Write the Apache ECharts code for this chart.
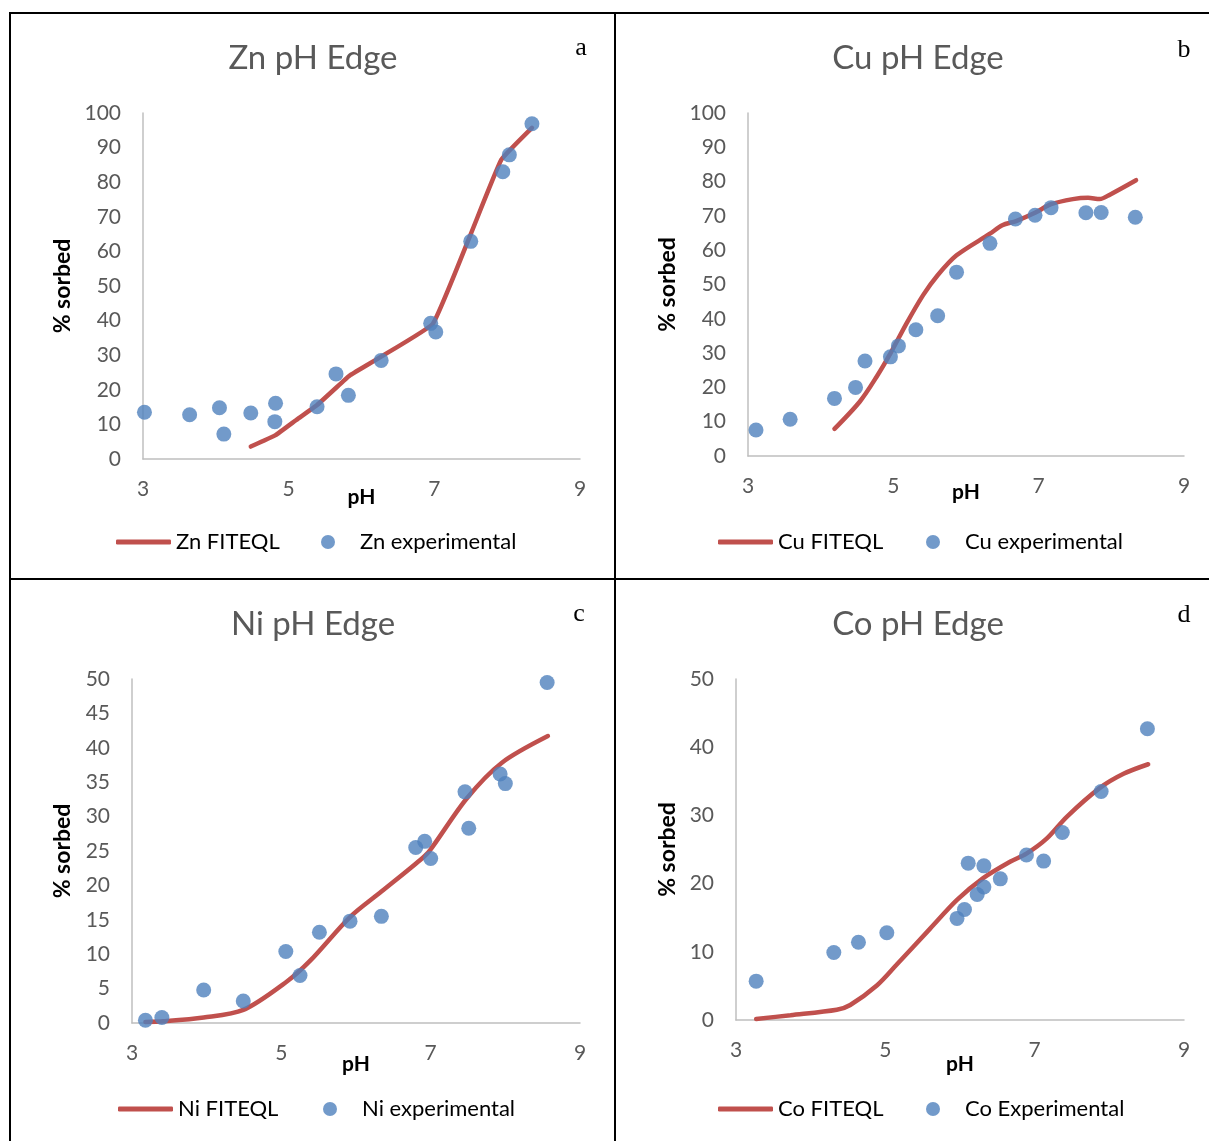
<!DOCTYPE html>
<html>
<head>
<meta charset="utf-8">
<script src="https://cdn.jsdelivr.net/npm/echarts@6/dist/echarts.min.js"></script>
<style>
  html, body { margin: 0; padding: 0; background: #fff; }
  #chart { width: 1209px; height: 1141px; }
</style>
</head>
<body>
<div id="chart"></div>
<script>
// values (pH, % sorbed)
var znExpPH     = [3.02, 3.64, 4.05, 4.11, 4.48, 4.82, 4.81, 5.39, 5.65, 5.82, 6.27, 6.95, 7.02, 7.50, 7.94, 8.03, 8.34];
var znExpSorbed = [13.5, 12.8, 14.8, 7.2, 13.3, 16.1, 10.8, 15.1, 24.6, 18.4, 28.5, 39.2, 36.7, 62.9, 83.0, 87.9, 96.9];
var znFitPH     = [4.48, 4.82, 5.10, 5.39, 5.75, 5.85, 6.27, 6.98, 7.50, 7.92, 8.34];
var znFitSorbed = [3.6, 6.9, 11.2, 15.6, 22.5, 24.3, 29.6, 39.1, 65.0, 86.5, 95.7];

var cuExpPH     = [3.11, 3.58, 4.19, 4.48, 4.61, 4.96, 5.07, 5.31, 5.61, 5.87, 6.33, 6.68, 6.95, 7.17, 7.65, 7.86, 8.33];
var cuExpSorbed = [7.6, 10.7, 16.8, 20.0, 27.7, 28.9, 32.1, 36.8, 40.9, 53.6, 62.0, 69.1, 70.2, 72.4, 70.9, 71.0, 69.6];
var cuFitPH     = [4.19, 4.54, 4.77, 4.96, 5.18, 5.41, 5.61, 5.87, 6.33, 6.50, 6.69, 6.95, 7.17, 7.47, 7.68, 7.84, 7.98, 8.34];
var cuFitSorbed = [7.9, 15.9, 23.1, 29.9, 38.6, 46.9, 52.7, 58.5, 64.8, 67.3, 68.5, 70.9, 73.4, 74.9, 75.3, 74.9, 76.2, 80.4];

var niExpPH     = [3.18, 3.40, 3.96, 4.49, 5.06, 5.25, 5.51, 5.92, 6.34, 6.80, 6.92, 7.00, 7.46, 7.51, 7.93, 8.00, 8.56];
var niExpSorbed = [0.4, 0.8, 4.8, 3.2, 10.4, 6.9, 13.2, 14.8, 15.5, 25.5, 26.4, 23.9, 33.6, 28.3, 36.2, 34.8, 49.5];
var niFitPH     = [3.18, 3.42, 3.96, 4.49, 5.07, 5.39, 5.92, 6.34, 6.86, 6.99, 7.48, 7.95, 8.57];
var niFitSorbed = [0.15, 0.25, 0.8, 1.9, 6.0, 9.1, 15.4, 19.1, 23.7, 25.1, 32.6, 37.8, 41.7];

var coExpPH     = [3.27, 4.31, 4.64, 5.02, 5.96, 6.06, 6.11, 6.23, 6.32, 6.32, 6.54, 6.89, 7.12, 7.37, 7.89, 8.51];
var coExpSorbed = [5.7, 9.9, 11.4, 12.8, 14.9, 16.2, 23.0, 18.4, 19.5, 22.6, 20.7, 24.2, 23.3, 27.5, 33.5, 42.7];
var coFitPH     = [3.27, 3.73, 4.35, 4.53, 4.89, 5.15, 5.60, 5.96, 6.31, 6.67, 6.89, 7.16, 7.43, 7.87, 8.19, 8.52];
var coFitSorbed = [0.15, 0.7, 1.5, 2.2, 5.1, 8.1, 13.4, 17.6, 20.8, 23.2, 24.4, 26.6, 29.8, 34.0, 36.1, 37.5];

var panelTitles = ['Zn pH Edge', 'Cu pH Edge', 'Ni pH Edge', 'Co pH Edge'];
var panelLetters = ['a', 'b', 'c', 'd'];
var fitNames = ['Zn FITEQL', 'Cu FITEQL', 'Ni FITEQL', 'Co FITEQL'];
var expNames = ['Zn experimental', 'Cu experimental', 'Ni experimental', 'Co Experimental'];
var yMax = [100, 100, 50, 50];
var yStep = [10, 10, 5, 10];

var expX = [znExpPH, cuExpPH, niExpPH, coExpPH];
var expY = [znExpSorbed, cuExpSorbed, niExpSorbed, coExpSorbed];
var fitX = [znFitPH, cuFitPH, niFitPH, coFitPH];
var fitY = [znFitSorbed, cuFitSorbed, niFitSorbed, coFitSorbed];

function zip(xs, ys) {
    return xs.map(function (x, i) { return [x, ys[i]]; });
}

var FONT = 'Lato, "Open Sans", sans-serif';
var GRAY = '#595959';
var RED = '#C0504D';
var BLUE = '#4F81BD';

// layout of each panel on the page
var grids = [
    { left: 143, top: 113, width: 437, height: 346 },
    { left: 748, top: 113, width: 436, height: 343 },
    { left: 132, top: 679, width: 448, height: 344 },
    { left: 736, top: 679, width: 448, height: 341 }
];
var titlePos = [[313, 58], [918, 58], [313, 624], [918, 624]];
var letterPos = [[581, 48], [1184, 50], [579, 614], [1184, 615]];
var xNameGap = [28, 26, 31, 34];
var yNameGap = [69, 69, 58, 57];
var smoothness = [0.1, 0.3, 0.3, 0.3];
var legendPos = [
    { line: 111, dot: 316, top: 526 },
    { line: 713, dot: 921, top: 526 },
    { line: 113, dot: 318, top: 1093 },
    { line: 713, dot: 921, top: 1093 }
];

var option = {
    animation: false,
    backgroundColor: '#fff',
    legend: [],
    grid: [],
    xAxis: [],
    yAxis: [],
    series: [],
    graphic: []
};

for (var i = 0; i < 4; i++) {
    option.grid.push(Object.assign({ containLabel: false }, grids[i]));
    option.xAxis.push({
        type: 'value',
        gridIndex: i,
        min: 3,
        max: 9,
        interval: 2,
        name: 'pH',
        nameLocation: 'middle',
        nameGap: xNameGap[i],
        nameMoveOverlap: false,
        nameTextStyle: { fontFamily: FONT, fontSize: 21, fontWeight: 'bold', color: '#000' },
        axisLine: { onZero: false, lineStyle: { color: '#BFBFBF', width: 1.5 } },
        axisTick: { show: false },
        splitLine: { show: false },
        axisLabel: { fontFamily: FONT, fontSize: 21, color: GRAY, margin: 20 }
    });
    option.yAxis.push({
        type: 'value',
        gridIndex: i,
        min: 0,
        max: yMax[i],
        interval: yStep[i],
        name: '% sorbed',
        nameLocation: 'middle',
        nameGap: yNameGap[i],
        nameMoveOverlap: false,
        nameTextStyle: { fontFamily: FONT, fontSize: 23, fontWeight: 'bold', color: '#000' },
        axisLine: { show: true, lineStyle: { color: '#BFBFBF', width: 1.5 } },
        axisTick: { show: false },
        splitLine: { show: false },
        axisLabel: { fontFamily: FONT, fontSize: 21, color: GRAY, margin: 22 }
    });
    option.series.push({
        name: fitNames[i],
        type: 'line',
        xAxisIndex: i,
        yAxisIndex: i,
        data: zip(fitX[i], fitY[i]),
        symbol: 'none',
        smooth: smoothness[i],
        color: RED,
        lineStyle: { color: RED, width: 4.5, cap: 'round' },
        z: 2
    });
    option.series.push({
        name: expNames[i],
        type: 'scatter',
        xAxisIndex: i,
        yAxisIndex: i,
        data: zip(expX[i], expY[i]),
        symbol: 'circle',
        symbolSize: 15,
        itemStyle: { color: BLUE },
        z: 3
    });
    option.legend.push({
        data: [fitNames[i]],
        left: legendPos[i].line,
        top: legendPos[i].top,
        icon: 'roundRect',
        itemWidth: 55,
        itemHeight: 5,
        textStyle: { fontFamily: FONT, fontSize: 22, color: '#000' }
    });
    option.legend.push({
        data: [expNames[i]],
        left: legendPos[i].dot,
        top: legendPos[i].top,
        icon: 'circle',
        itemWidth: 14,
        itemHeight: 14,
        textStyle: { fontFamily: FONT, fontSize: 22, color: '#000', padding: [0, 0, 0, 20] }
    });
    option.graphic.push({
        type: 'text',
        x: titlePos[i][0],
        y: titlePos[i][1],
        style: {
            text: panelTitles[i],
            font: '33px ' + FONT,
            fill: GRAY,
            align: 'center',
            verticalAlign: 'middle'
        }
    });
    option.graphic.push({
        type: 'text',
        x: letterPos[i][0],
        y: letterPos[i][1],
        style: {
            text: panelLetters[i],
            font: '26px "Liberation Serif", serif',
            fill: '#000',
            align: 'center',
            verticalAlign: 'middle'
        }
    });
}

// frame around the four panels
var frameLines = [
    [9, 13, 1209, 13],
    [10, 12, 10, 1141],
    [615, 12, 615, 1141],
    [9, 579, 1209, 579]
];
frameLines.forEach(function (l) {
    option.graphic.push({
        type: 'line',
        shape: { x1: l[0], y1: l[1], x2: l[2], y2: l[3] },
        style: { stroke: '#000', lineWidth: 2 }
    });
});

var chart = echarts.init(document.getElementById('chart'));
chart.setOption(option);
</script>
</body>
</html>
